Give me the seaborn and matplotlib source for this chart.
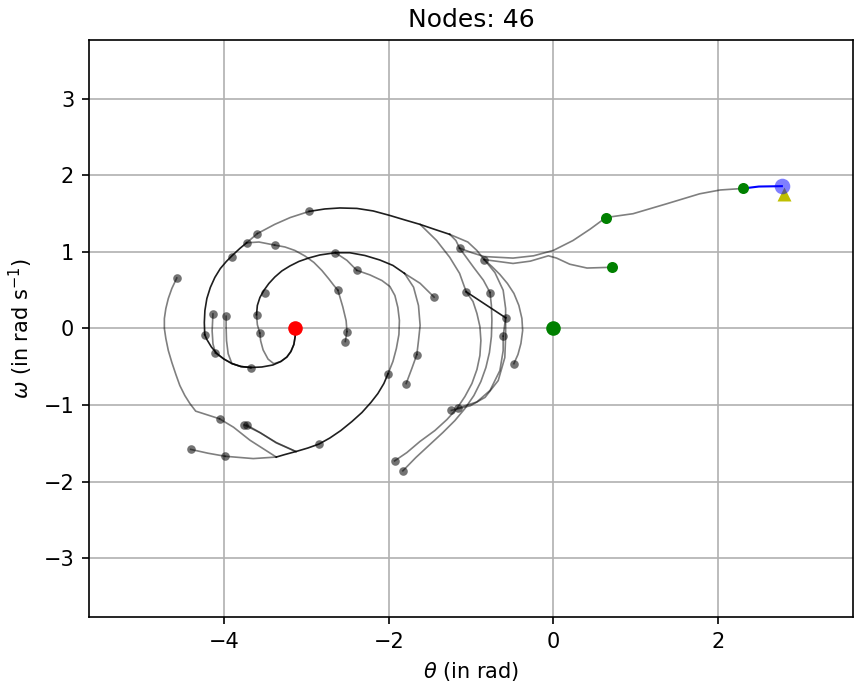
import numpy as np
import pandas as pd
import matplotlib
matplotlib.use("Agg")
import matplotlib.pyplot as plt
import seaborn as sns

# ---------------- data ----------------
title_text = "Nodes: 46"
x_ticks = [-4, -2, 0, 2]
y_ticks = [-3, -2, -1, 0, 1, 2, 3]

start_theta, start_omega = -3.1416, 0.0
origin_theta, origin_omega = 0.0, 0.0
goal_theta, goal_omega = 2.78, 1.86
target_theta, target_omega = 2.80, 1.76

# tree nodes (grey)
node_theta = [-4.58, -2.97, -3.60, -3.73, -3.39, -3.91, -2.65, -2.39, -3.51, -2.62,
              -4.14, -3.98, -3.61, -4.24, -3.57, -2.51, -2.53, -4.11, -3.68, -2.01,
              -1.14, -0.84, -1.45, -1.06, -0.77, -0.58, -0.61, -0.48, -1.66, -1.79,
              -1.24, -1.16, -1.93, -1.83, -4.06, -3.76, -3.73, -4.41, -3.99, -2.85]
node_omega = [0.66, 1.53, 1.24, 1.12, 1.09, 0.93, 0.99, 0.76, 0.47, 0.50,
              0.19, 0.16, 0.18, -0.08, -0.06, -0.04, -0.17, -0.32, -0.51, -0.59,
              1.05, 0.90, 0.41, 0.48, 0.47, 0.14, -0.10, -0.46, -0.34, -0.72,
              -1.07, -1.04, -1.73, -1.86, -1.18, -1.26, -1.26, -1.58, -1.67, -1.51]

# nodes near the goal (green)
near_theta = [0.64, 0.71, 2.31]
near_omega = [1.45, 0.80, 1.83]

# grey edges: each a trajectory read as (theta, omega) waypoints
grey_edges = [
    [(-3.14, 0.0), (-3.14, -0.105), (-3.156, -0.209), (-3.192, -0.301), (-3.241, -0.373),
     (-3.314, -0.431), (-3.40, -0.46), (-3.47, -0.40), (-3.53, -0.28), (-3.56, -0.16),
     (-3.57, -0.06)],
    [(-3.57, -0.06), (-3.60, 0.05), (-3.61, 0.18)],
    [(-3.68, -0.51), (-3.80, -0.497), (-3.91, -0.458), (-4.007, -0.399), (-4.11, -0.32)],
    [(-4.11, -0.32), (-4.14, -0.20), (-4.15, -0.03), (-4.14, 0.19)],
    [(-3.68, -0.51), (-3.80, -0.497), (-3.91, -0.458), (-3.955, -0.33), (-3.975, -0.16),
     (-3.98, 0.02), (-3.98, 0.16)],
    [(-3.73, 1.12), (-3.60, 1.24)],
    [(-3.60, 1.24), (-3.39, 1.36), (-3.20, 1.45), (-2.97, 1.53)],
    [(-3.73, 1.12), (-3.58, 1.13), (-3.39, 1.09)],
    [(-3.39, 1.09), (-3.264, 1.065), (-3.144, 1.020), (-3.022, 0.948), (-2.912, 0.863),
     (-2.815, 0.758), (-2.730, 0.647), (-2.669, 0.562), (-2.62, 0.50)],
    [(-2.62, 0.50), (-2.56, 0.28), (-2.52, 0.10), (-2.51, -0.04)],
    [(-2.51, -0.04), (-2.53, -0.17)],
    [(-2.65, 0.99), (-2.51, 0.89), (-2.39, 0.76)],
    [(-2.39, 0.76), (-2.23, 0.70), (-2.085, 0.627), (-1.988, 0.549), (-1.927, 0.431),
     (-1.891, 0.275), (-1.872, 0.105), (-1.878, -0.078), (-1.909, -0.261),
     (-1.951, -0.431), (-2.01, -0.59)],
    [(-1.81, 0.72), (-1.62, 0.59), (-1.45, 0.41)],
    [(-1.81, 0.72), (-1.70, 0.54), (-1.64, 0.30), (-1.62, 0.04), (-1.64, -0.16),
     (-1.66, -0.34)],
    [(-1.66, -0.34), (-1.72, -0.52), (-1.79, -0.72)],
    [(-1.62, 1.36), (-1.42, 1.15), (-1.26, 0.93), (-1.14, 0.72), (-1.06, 0.48)],
    [(-1.26, 1.23), (-1.185, 1.15), (-1.14, 1.05)],
    [(-1.26, 1.23), (-1.04, 1.13), (-0.93, 1.02), (-0.84, 0.90)],
    [(-1.06, 0.48), (-0.977, 0.353), (-0.929, 0.196), (-0.893, 0.026), (-0.881, -0.157),
     (-0.893, -0.353), (-0.929, -0.536), (-0.990, -0.719), (-1.075, -0.889),
     (-1.173, -1.046), (-1.294, -1.190), (-1.440, -1.333), (-1.623, -1.477),
     (-1.781, -1.621), (-1.93, -1.73)],
    [(-1.14, 1.05), (-0.97, 0.80), (-0.85, 0.63), (-0.77, 0.47)],
    [(-0.77, 0.47), (-0.753, 0.301), (-0.747, 0.105), (-0.753, -0.105), (-0.777, -0.314),
     (-0.820, -0.510), (-0.881, -0.693), (-0.966, -0.876), (-1.075, -1.046),
     (-1.197, -1.203), (-1.343, -1.359), (-1.501, -1.516), (-1.672, -1.686),
     (-1.83, -1.86)],
    [(-0.84, 0.90), (-0.71, 0.73), (-0.61, 0.50), (-0.58, 0.26), (-0.58, 0.14)],
    [(-0.84, 0.90), (-0.747, 0.810), (-0.650, 0.706), (-0.558, 0.588), (-0.479, 0.458),
     (-0.419, 0.301), (-0.382, 0.131), (-0.373, -0.026), (-0.394, -0.196),
     (-0.430, -0.340), (-0.48, -0.46)],
    [(-0.58, 0.14), (-0.61, -0.10)],
    [(-0.61, -0.10), (-0.61, -0.29), (-0.65, -0.55), (-0.77, -0.81), (-0.93, -0.96),
     (-1.16, -1.04)],
    [(-0.58, 0.14), (-0.58, -0.11), (-0.59, -0.38), (-0.67, -0.68), (-0.83, -0.90),
     (-1.01, -1.01), (-1.24, -1.07)],
    [(-1.14, 1.05), (-0.99, 0.99), (-0.84, 0.94), (-0.49, 0.92), (-0.24, 0.95),
     (0.00, 1.02), (0.24, 1.15), (0.45, 1.30), (0.64, 1.45)],
    [(-0.84, 0.90), (-0.49, 0.85), (-0.28, 0.88), (-0.06, 0.95), (0.04, 0.92),
     (0.20, 0.84), (0.41, 0.79), (0.71, 0.80)],
    [(0.64, 1.45), (0.97, 1.50), (1.38, 1.63), (1.78, 1.76), (2.03, 1.81), (2.31, 1.83)],
    [(-3.37, -1.68), (-3.65, -1.70), (-3.99, -1.67)],
    [(-3.99, -1.67), (-4.20, -1.63), (-4.41, -1.58)],
    [(-3.131, -1.608), (-3.37, -1.49), (-3.57, -1.36), (-3.76, -1.26)],
    [(-3.131, -1.608), (-3.37, -1.495), (-3.56, -1.365), (-3.73, -1.26)],
    [(-3.37, -1.68), (-3.69, -1.46), (-3.89, -1.29), (-4.06, -1.18)],
    [(-4.06, -1.18), (-4.35, -1.08), (-4.421, -0.980), (-4.482, -0.876), (-4.543, -0.745),
     (-4.591, -0.601), (-4.640, -0.444), (-4.683, -0.288), (-4.713, -0.131),
     (-4.731, 0.0), (-4.731, 0.131), (-4.713, 0.261), (-4.683, 0.392),
     (-4.640, 0.523), (-4.58, 0.66)],
]

# darker (shared) trajectory segments
dark_edges = [
    [(-3.14, 0.0), (-3.14, -0.105), (-3.156, -0.209), (-3.192, -0.301), (-3.241, -0.373),
     (-3.314, -0.431), (-3.411, -0.477), (-3.545, -0.503), (-3.68, -0.51)],
    [(-3.68, -0.51), (-3.80, -0.497), (-3.91, -0.458), (-4.007, -0.399), (-4.092, -0.327),
     (-4.159, -0.242), (-4.214, -0.144), (-4.24, -0.08)],
    [(-4.24, -0.08), (-4.245, 0.078), (-4.238, 0.235), (-4.214, 0.392), (-4.172, 0.536),
     (-4.117, 0.667), (-4.050, 0.784), (-3.977, 0.876), (-3.898, 0.961),
     (-3.813, 1.046), (-3.73, 1.12)],
    [(-3.61, 0.18), (-3.600, 0.301), (-3.569, 0.405), (-3.521, 0.497), (-3.460, 0.588),
     (-3.387, 0.673), (-3.302, 0.752), (-3.204, 0.817), (-3.095, 0.876),
     (-2.973, 0.922), (-2.839, 0.961), (-2.65, 0.99)],
    [(-2.65, 0.99), (-2.475, 0.990), (-2.292, 0.954), (-2.110, 0.895), (-1.951, 0.824),
     (-1.81, 0.72)],
    [(-2.97, 1.53), (-2.779, 1.562), (-2.596, 1.575), (-2.389, 1.569), (-2.191, 1.536),
     (-1.988, 1.477), (-1.805, 1.418), (-1.62, 1.36), (-1.440, 1.294), (-1.26, 1.23)],
    [(-2.01, -0.59), (-2.061, -0.719), (-2.134, -0.850), (-2.219, -0.967),
     (-2.328, -1.098), (-2.450, -1.216), (-2.584, -1.333), (-2.718, -1.431),
     (-2.85, -1.51), (-2.986, -1.562), (-3.131, -1.608), (-3.265, -1.647),
     (-3.37, -1.68)],
    [(-1.06, 0.48), (-0.58, 0.14)],
]

# final connection to the goal (blue)
goal_path = [(2.31, 1.83), (2.50, 1.855), (2.78, 1.86)]


def to_frame(paths):
    rows = []
    for k, p in enumerate(paths):
        for j, (t, w) in enumerate(p):
            rows.append({"edge": k, "order": j, "theta": t, "omega": w})
    return pd.DataFrame(rows)


grey_df = to_frame(grey_edges)
dark_df = to_frame(dark_edges)
goal_df = to_frame([goal_path])
nodes_df = pd.DataFrame({"theta": node_theta, "omega": node_omega})
near_df = pd.DataFrame({"theta": near_theta, "omega": near_omega})

# ---------------- figure ----------------
fig = plt.figure(figsize=(854 / 150, 686 / 150), dpi=150)
ax = fig.add_axes([0.104, 0.1006, 0.8948, 0.8411])

line_kw = dict(x="theta", y="omega", units="edge", estimator=None, sort=False,
               ax=ax, legend=False)
sns.lineplot(data=grey_df, color="k", alpha=0.5, linewidth=0.8, **line_kw)
sns.lineplot(data=dark_df, color="k", alpha=0.88, linewidth=0.8, **line_kw)
sns.lineplot(data=goal_df, color="b", linewidth=1.0, **line_kw)

sns.scatterplot(data=nodes_df, x="theta", y="omega", color="k", alpha=0.55,
                s=17, linewidth=0, ax=ax, legend=False, zorder=3)
sns.scatterplot(data=near_df, x="theta", y="omega", color="g", s=28,
                linewidth=0, ax=ax, legend=False, zorder=4)
sns.scatterplot(x=[start_theta], y=[start_omega], color="r", s=49,
                linewidth=0, ax=ax, legend=False, zorder=5)
sns.scatterplot(x=[origin_theta], y=[origin_omega], color="g", s=49,
                linewidth=0, ax=ax, legend=False, zorder=5)
sns.scatterplot(x=[target_theta], y=[target_omega], color="y", marker="^", s=45,
                linewidth=0, ax=ax, legend=False, zorder=5)
sns.scatterplot(x=[goal_theta], y=[goal_omega], color="b", alpha=0.5, s=56,
                linewidth=0, ax=ax, legend=False, zorder=6)

ax.set_xlim(-5.65, 3.645)
ax.set_ylim(-3.77, 3.77)
ax.set_xticks(x_ticks)
ax.set_yticks(y_ticks)
ax.grid(True, color="#b0b0b0", linewidth=0.8)
ax.set_axisbelow(True)
ax.set_title(title_text)
ax.set_xlabel(r"$\theta$ (in rad)")
ax.set_ylabel(r"$\omega$ (in rad s$^{-1}$)")

fig.savefig("out.png", dpi=150)
